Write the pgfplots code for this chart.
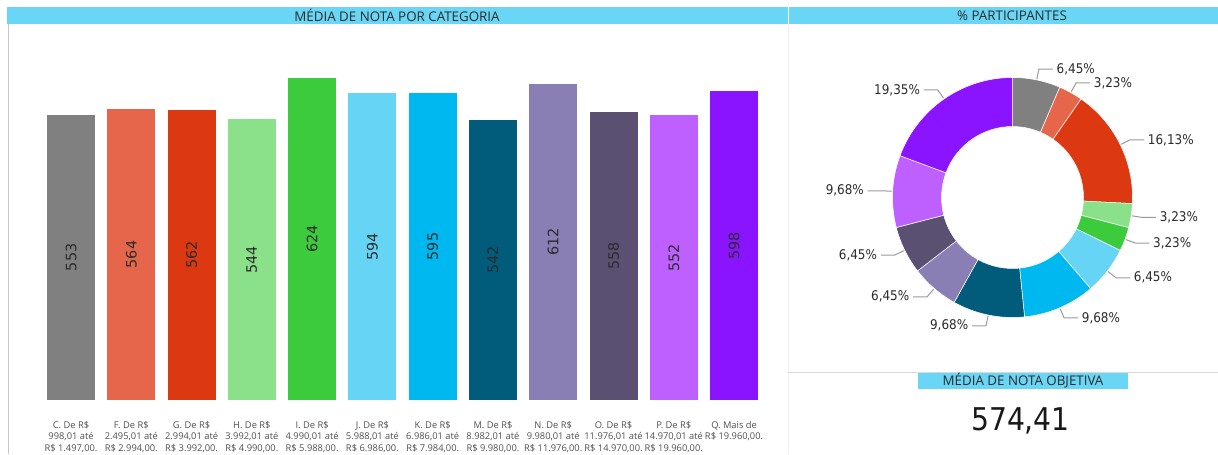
\documentclass[border=0pt]{standalone}
\usepackage{pgfplots}
\usepackage{pgfplotstable}
\pgfplotsset{compat=1.18}
\usepackage{fontspec}
\setmainfont{Open Sans}
\newfontfamily\dinfont{DejaVu Sans Condensed}
\newfontfamily\dinwide{DejaVu Sans}

\definecolor{hdr}{HTML}{69D6F6}
\definecolor{txtdark}{HTML}{2B2B2B}
\definecolor{txtgray}{HTML}{505050}
\definecolor{leadc}{HTML}{9A9A9A}
\definecolor{cC}{HTML}{808080}
\definecolor{cF}{HTML}{E5664A}
\definecolor{cG}{HTML}{DC3912}
\definecolor{cH}{HTML}{8BE08A}
\definecolor{cI}{HTML}{3CCB3C}
\definecolor{cJ}{HTML}{66D4F5}
\definecolor{cK}{HTML}{00B8F0}
\definecolor{cM}{HTML}{005C7A}
\definecolor{cN}{HTML}{8A7FB5}
\definecolor{cO}{HTML}{5A5072}
\definecolor{cP}{HTML}{BD60FF}
\definecolor{cQ}{HTML}{8A14FF}

\pgfplotstableread{
x y
0 553
1 564
2 562
3 544
4 624
5 594
6 595
7 542
8 612
9 558
10 552
11 598
}\bardata

\pgfplotstableread{
pct lab col
6.45 6,45 cC
3.23 3,23 cF
16.13 16,13 cG
3.23 3,23 cH
3.23 3,23 cI
6.45 6,45 cJ
9.68 9,68 cK
9.68 9,68 cM
6.45 6,45 cN
6.45 6,45 cO
9.68 9,68 cP
19.35 19,35 cQ
}\pietable

\begin{document}
\begin{tikzpicture}[x=0.75pt,y=0.75pt]
\useasboundingbox[fill=white] (0,0) rectangle (1218,454);
\coordinate (barorigin) at (40.87,54);
\coordinate (piecenter) at (1012.5,256.5);
% headers
\fill[hdr] (7,430) rectangle (787.5,447);
\fill[hdr] (788.5,430) rectangle (1218,447);
\node[font=\fontsize{10}{11}\selectfont, text=txtdark] at (397,438.5) {MÉDIA DE NOTA POR CATEGORIA};
\node[font=\fontsize{10}{11}\selectfont, text=txtdark] at (1012,438.5) {\% PARTICIPANTES};
% borders
\draw[color=black!22, line width=0.75pt] (8,0) -- (8,430);
\draw[color=black!6, line width=0.75pt] (788,0) -- (788,430);
\draw[color=black!15, line width=0.75pt] (788,82) -- (1218,82);
% KPI
\fill[hdr] (918,65) rectangle (1128,81.5);
\node[font=\fontsize{10}{11}\selectfont, text=txtdark] at (1023,73.5) {MÉDIA DE NOTA OBJETIVA};
\node[font=\dinfont\fontsize{23.5}{26}\selectfont, text=black!90] at (1020.5,33) {574,41};

% bar chart
\begin{axis}[
  at={(barorigin)}, anchor=south west,
  scale only axis, width=542.5pt, height=270.9pt,
  xmin=-0.5, xmax=11.5, ymin=0, ymax=700,
  ybar, bar width=36pt,
  axis line style={draw=none}, tick style={draw=none},
  ytick=\empty, xtick={0,...,11},
  xticklabels={
    {C. De R\$\\998,01 até\\R\$ 1.497,00.},
    {F. De R\$\\2.495,01 até\\R\$ 2.994,00.},
    {G. De R\$\\2.994,01 até\\R\$ 3.992,00.},
    {H. De R\$\\3.992,01 até\\R\$ 4.990,00.},
    {I. De R\$\\4.990,01 até\\R\$ 5.988,00.},
    {J. De R\$\\5.988,01 até\\R\$ 6.986,00.},
    {K. De R\$\\6.986,01 até\\R\$ 7.984,00.},
    {M. De R\$\\8.982,01 até\\R\$ 9.980,00.},
    {N. De R\$\\9.980,01 até\\R\$ 11.976,00.},
    {O. De R\$\\11.976,01 até\\R\$ 14.970,00.},
    {P. De R\$\\14.970,01 até\\R\$ 19.960,00.},
    {Q. Mais de\\R\$ 19.960,00.\\\strut}},
  xticklabel style={align=center, anchor=north, yshift=-8pt,
    font=\fontsize{7}{8.7}\selectfont, text=txtgray},
  clip=false,
]
\addplot[fill=cC, draw=none, bar shift=0pt] coordinates {(0,553)};
\addplot[fill=cF, draw=none, bar shift=0pt] coordinates {(1,564)};
\addplot[fill=cG, draw=none, bar shift=0pt] coordinates {(2,562)};
\addplot[fill=cH, draw=none, bar shift=0pt] coordinates {(3,544)};
\addplot[fill=cI, draw=none, bar shift=0pt] coordinates {(4,624)};
\addplot[fill=cJ, draw=none, bar shift=0pt] coordinates {(5,594)};
\addplot[fill=cK, draw=none, bar shift=0pt] coordinates {(6,595)};
\addplot[fill=cM, draw=none, bar shift=0pt] coordinates {(7,542)};
\addplot[fill=cN, draw=none, bar shift=0pt] coordinates {(8,612)};
\addplot[fill=cO, draw=none, bar shift=0pt] coordinates {(9,558)};
\addplot[fill=cP, draw=none, bar shift=0pt] coordinates {(10,552)};
\addplot[fill=cQ, draw=none, bar shift=0pt] coordinates {(11,598)};
\addplot[draw=none, fill=none, bar shift=0pt, nodes near coords,
  point meta=explicit symbolic,
  every node near coord/.style={rotate=90, anchor=center, inner sep=0pt,
    font=\dinwide\fontsize{10.8}{12}\selectfont, text=txtdark}]
  table[x=x, y expr=\thisrow{y}/2, meta=y] {\bardata};
\end{axis}

% donut
\begin{axis}[
  at={(piecenter)}, anchor=center,
  scale only axis, width=180pt, height=180pt,
  xmin=-1, xmax=1, ymin=-1, ymax=1, hide axis, clip=false,
]
\pgfplotsextra{%
\gdef\cumv{0}%
\foreach \i in {0,...,11}{%
  \pgfplotstablegetelem{\i}{pct}\of\pietable \let\ppct\pgfplotsretval
  \pgfplotstablegetelem{\i}{lab}\of\pietable \let\plab\pgfplotsretval
  \pgfplotstablegetelem{\i}{col}\of\pietable \let\pcol\pgfplotsretval
  \pgfmathsetmacro\sa{90-3.6*\cumv}%
  \pgfmathsetmacro\sb{90-3.6*(\cumv+\ppct)}%
  \pgfmathsetmacro\sm{(\sa+\sb)/2}%
  \fill[\pcol, draw=white, line width=0.4pt] ([shift={(\sa:90pt)}]axis cs:0,0) arc[start angle=\sa, end angle=\sb, radius=90pt] -- ([shift={(\sb:53.25pt)}]axis cs:0,0) arc[start angle=\sb, end angle=\sa, radius=53.25pt] -- cycle;
  \pgfmathsetmacro\cm{cos(\sm)}%
  \ifdim\cm pt>0pt \def\dir{1}\def\anc{west}\else \def\dir{-1}\def\anc{east}\fi
  \draw[leadc, line width=0.75pt] ([shift={(\sm:90.75pt)}]axis cs:0,0) -- ([shift={(\sm:98.25pt)}]axis cs:0,0) -- ++(\dir*10.5pt,0pt) node[anchor=\anc, inner sep=2.5pt, font=\dinfont\fontsize{10}{12}\selectfont, text=txtdark] {\plab\%};
  \pgfmathsetmacro\nv{\cumv+\ppct}\xdef\cumv{\nv}%
}}
\end{axis}
\end{tikzpicture}
\end{document}
